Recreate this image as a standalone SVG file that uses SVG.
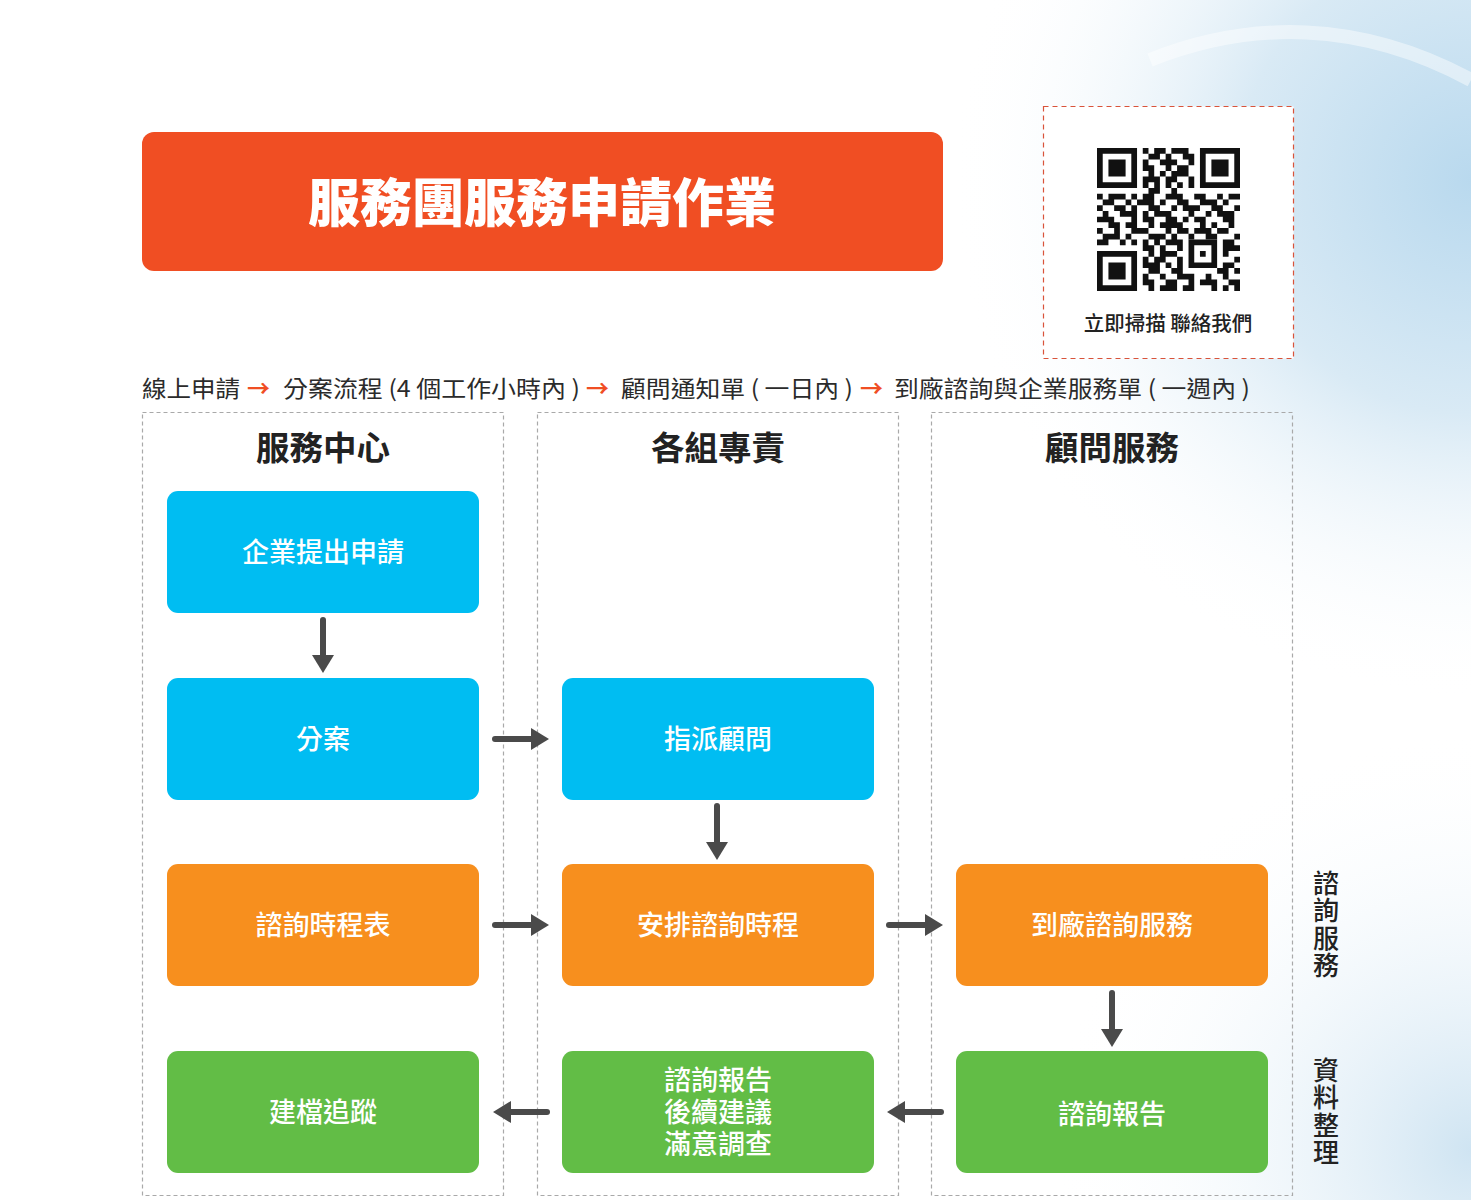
<svg xmlns="http://www.w3.org/2000/svg" width="1471" height="1200" viewBox="0 0 1471 1200">
<defs>
<style>
.cjk{font-family:"Noto Sans CJK TC","Noto Sans CJK SC",sans-serif}
.col{fill:none;stroke:#a9a9a9;stroke-width:1.2;stroke-dasharray:4 3}
.hdr{font-size:33.5px;font-weight:700;fill:#222;text-anchor:middle}
.lbl{font-size:27px;font-weight:500;fill:#fff;text-anchor:middle}
.blue{fill:#00BDF2}
.orange{fill:#F78F1E}
.green{fill:#62BD46}
.conn{stroke:#4a4a4a;stroke-width:6;stroke-linecap:round;fill:none;marker-end:url(#ah)}
.proc{font-size:23px;fill:#2b2b2b}
.parr{fill:#F04E23}
.side{font-size:26px;font-weight:500;fill:#222;writing-mode:vertical-rl;text-orientation:upright;letter-spacing:1.5px}
</style>
<marker id="ah" markerUnits="userSpaceOnUse" markerWidth="18" markerHeight="22" refX="0" refY="11" orient="auto" viewBox="0 0 18 22">
<path d="M0,0 L18,11 L0,22 z" fill="#4a4a4a"/>
</marker>
<radialGradient id="bg1" cx="1471" cy="180" r="520" gradientUnits="userSpaceOnUse">
<stop offset="0" stop-color="#b9d9ee"/>
<stop offset="0.45" stop-color="#d9eaf5"/>
<stop offset="1" stop-color="#ffffff" stop-opacity="0"/>
</radialGradient>
<radialGradient id="bg2" cx="1471" cy="1150" r="420" gradientUnits="userSpaceOnUse">
<stop offset="0" stop-color="#cfe4f2"/>
<stop offset="1" stop-color="#ffffff" stop-opacity="0"/>
</radialGradient>
</defs>
<rect width="1471" height="1200" fill="#ffffff"/>
<rect width="1471" height="1200" fill="url(#bg1)"/>
<rect width="1471" height="1200" fill="url(#bg2)"/>
<path d="M1150,60 C1250,20 1360,20 1471,80" fill="none" stroke="#ffffff" stroke-width="14" opacity="0.45"/>

<g id="title">
<rect x="142" y="132" width="801" height="139" rx="12" fill="#F04E23"/>
<text class="cjk" x="542" y="222" font-size="52" font-weight="900" fill="#fff" text-anchor="middle">服務團服務申請作業</text>
</g>

<g id="qr">
<rect x="1043.5" y="106.5" width="250" height="252" fill="#fff" stroke="#D9533A" stroke-width="1.2" stroke-dasharray="5 4"/>
<rect x="1080" y="132" width="176" height="170" fill="#fff"/>
<g transform="translate(1097,148) scale(5.72)" fill="#111">
<path d="M8 0h1v1h-1zM10 0h2v1h-2zM13 0h3v1h-3zM9 1h2v1h-2zM12 1h1v1h-1zM15 1h2v1h-2zM8 2h1v1h-1zM11 2h3v1h-3zM16 2h1v1h-1zM8 3h2v1h-2zM12 3h1v1h-1zM14 3h2v1h-2zM9 4h1v1h-1zM11 4h1v1h-1zM13 4h3v1h-3zM8 5h3v1h-3zM12 5h2v1h-2zM16 5h1v1h-1zM8 6h1v1h-1zM10 6h1v1h-1zM12 6h1v1h-1zM14 6h1v1h-1zM16 6h1v1h-1zM9 7h2v1h-2zM13 7h1v1h-1zM0 8h1v1h-1zM2 8h3v1h-3zM6 8h1v1h-1zM8 8h2v1h-2zM12 8h3v1h-3zM17 8h2v1h-2zM21 8h1v1h-1zM23 8h2v1h-2zM1 9h2v1h-2zM5 9h1v1h-1zM7 9h3v1h-3zM11 9h1v1h-1zM14 9h2v1h-2zM18 9h3v1h-3zM22 9h1v1h-1zM0 10h1v1h-1zM3 10h2v1h-2zM6 10h1v1h-1zM9 10h2v1h-2zM13 10h1v1h-1zM15 10h3v1h-3zM20 10h2v1h-2zM24 10h1v1h-1zM1 11h1v1h-1zM4 11h3v1h-3zM8 11h1v1h-1zM10 11h3v1h-3zM16 11h1v1h-1zM19 11h1v1h-1zM21 11h3v1h-3zM0 12h3v1h-3zM6 12h1v1h-1zM8 12h2v1h-2zM12 12h2v1h-2zM15 12h1v1h-1zM17 12h2v1h-2zM22 12h2v1h-2zM2 13h2v1h-2zM5 13h2v1h-2zM9 13h1v1h-1zM11 13h4v1h-4zM18 13h1v1h-1zM20 13h1v1h-1zM23 13h1v1h-1zM0 14h1v1h-1zM3 14h1v1h-1zM6 14h3v1h-3zM12 14h1v1h-1zM14 14h2v1h-2zM17 14h3v1h-3zM21 14h2v1h-2zM1 15h3v1h-3zM5 15h1v1h-1zM9 15h3v1h-3zM13 15h1v1h-1zM16 15h1v1h-1zM19 15h2v1h-2zM24 15h1v1h-1zM0 16h2v1h-2zM4 16h1v1h-1zM6 16h1v1h-1zM8 16h1v1h-1zM10 16h1v1h-1zM12 16h3v1h-3zM22 16h2v1h-2zM8 17h2v1h-2zM11 17h1v1h-1zM14 17h1v1h-1zM22 17h3v1h-3zM9 18h1v1h-1zM11 18h3v1h-3zM22 18h1v1h-1zM8 19h1v1h-1zM10 19h2v1h-2zM14 19h1v1h-1zM24 19h1v1h-1zM8 20h3v1h-3zM12 20h1v1h-1zM14 20h1v1h-1zM22 20h2v1h-2zM9 21h2v1h-2zM13 21h2v1h-2zM21 21h2v1h-2zM24 21h1v1h-1zM8 22h1v1h-1zM11 22h1v1h-1zM14 22h3v1h-3zM19 22h1v1h-1zM22 22h1v1h-1zM8 23h2v1h-2zM12 23h2v1h-2zM16 23h1v1h-1zM18 23h3v1h-3zM23 23h2v1h-2zM9 24h1v1h-1zM11 24h3v1h-3zM15 24h2v1h-2zM20 24h1v1h-1zM22 24h1v1h-1zM24 24h1v1h-1z"/>
<path d="M0 0h7v7h-7zM1 1v5h5v-5zM2 2h3v3h-3zM18 0h7v7h-7zM19 1v5h5v-5zM20 2h3v3h-3zM0 18h7v7h-7zM1 19v5h5v-5zM2 20h3v3h-3zM16 16h5v5h-5zM17 17v3h3v-3zM18 18h1v1h-1z" fill-rule="evenodd"/>
</g>
<text class="cjk" x="1168" y="331" font-size="20.5" font-weight="500" fill="#222" text-anchor="middle">立即掃描 聯絡我們</text>
</g>

<g id="process">
<text class="cjk proc" x="142" y="397" textLength="98" lengthAdjust="spacingAndGlyphs">線上申請</text>
<text class="cjk proc parr" x="247" y="397" font-weight="700">→</text>
<text class="cjk proc" x="283" y="397" textLength="297" lengthAdjust="spacingAndGlyphs">分案流程 (4 個工作小時內 )</text>
<text class="cjk proc parr" x="586" y="397" font-weight="700">→</text>
<text class="cjk proc" x="621" y="397" textLength="232" lengthAdjust="spacingAndGlyphs">顧問通知單 ( 一日內 )</text>
<text class="cjk proc parr" x="860" y="397" font-weight="700">→</text>
<text class="cjk proc" x="894" y="397" textLength="356" lengthAdjust="spacingAndGlyphs">到廠諮詢與企業服務單 ( 一週內 )</text>
</g>

<g id="lane-service-center">
<rect class="col" x="142.5" y="412.5" width="361" height="783"/>
<text class="cjk hdr" x="323" y="460">服務中心</text>
</g>
<g id="lane-groups">
<rect class="col" x="537.5" y="412.5" width="361" height="783"/>
<text class="cjk hdr" x="718" y="460">各組專責</text>
</g>
<g id="lane-consultant">
<rect class="col" x="931.5" y="412.5" width="361" height="783"/>
<text class="cjk hdr" x="1112" y="460">顧問服務</text>
</g>

<g id="n-apply"><rect class="blue" x="167" y="491" width="312" height="122" rx="11"/><text class="cjk lbl" x="323" y="562">企業提出申請</text></g>
<g id="n-assign-case"><rect class="blue" x="167" y="678" width="312" height="122" rx="11"/><text class="cjk lbl" x="323" y="749">分案</text></g>
<g id="n-assign-consultant"><rect class="blue" x="562" y="678" width="312" height="122" rx="11"/><text class="cjk lbl" x="718" y="749">指派顧問</text></g>
<g id="n-schedule-table"><rect class="orange" x="167" y="864" width="312" height="122" rx="11"/><text class="cjk lbl" x="323" y="935">諮詢時程表</text></g>
<g id="n-arrange"><rect class="orange" x="562" y="864" width="312" height="122" rx="11"/><text class="cjk lbl" x="718" y="935">安排諮詢時程</text></g>
<g id="n-onsite"><rect class="orange" x="956" y="864" width="312" height="122" rx="11"/><text class="cjk lbl" x="1112" y="935">到廠諮詢服務</text></g>
<g id="n-archive"><rect class="green" x="167" y="1051" width="312" height="122" rx="11"/><text class="cjk lbl" x="323" y="1122">建檔追蹤</text></g>
<g id="n-followup"><rect class="green" x="562" y="1051" width="312" height="122" rx="11"/><text class="cjk lbl" x="718" y="1090"><tspan x="718" y="1090">諮詢報告</tspan><tspan x="718" y="1122">後續建議</tspan><tspan x="718" y="1154">滿意調查</tspan></text></g>
<g id="n-report"><rect class="green" x="956" y="1051" width="312" height="122" rx="11"/><text class="cjk lbl" x="1112" y="1124">諮詢報告</text></g>

<g id="connectors">
<line class="conn" x1="323" y1="620" x2="323" y2="655"/>
<line class="conn" x1="495" y1="739" x2="531" y2="739"/>
<line class="conn" x1="717" y1="806" x2="717" y2="842"/>
<line class="conn" x1="495" y1="925" x2="531" y2="925"/>
<line class="conn" x1="889" y1="925" x2="925" y2="925"/>
<line class="conn" x1="1112" y1="993" x2="1112" y2="1029"/>
<line class="conn" x1="547" y1="1112" x2="511" y2="1112"/>
<line class="conn" x1="941" y1="1112" x2="905" y2="1112"/>
</g>

<g id="side-labels">
<text class="cjk side" x="1326" y="870">諮詢服務</text>
<text class="cjk side" x="1326" y="1057">資料整理</text>
</g>
</svg>
